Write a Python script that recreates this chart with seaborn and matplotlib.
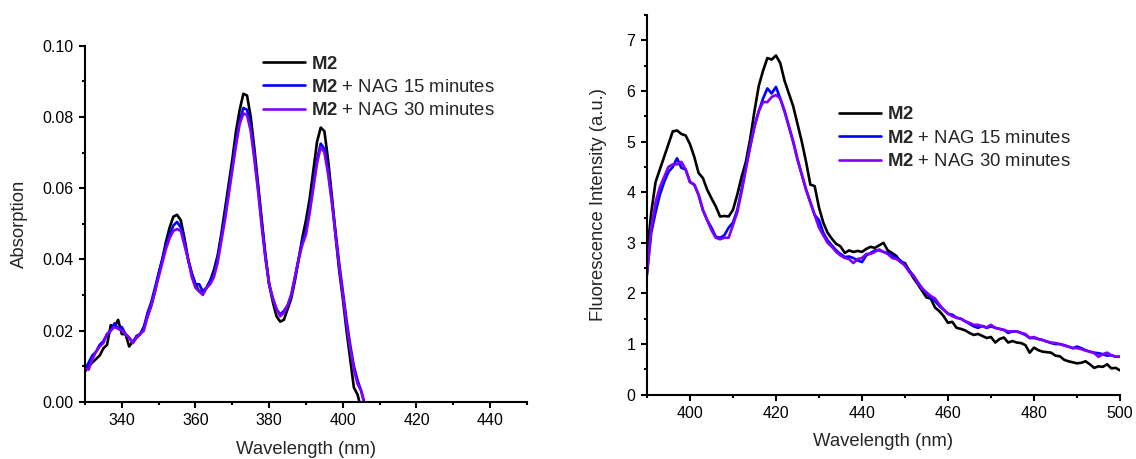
import numpy as np
import pandas as pd
import matplotlib
matplotlib.use("Agg")
import matplotlib.pyplot as plt
from matplotlib.ticker import MultipleLocator
import seaborn as sns

# ---------------- data: absorption ----------------
abs_wl = list(range(330, 407))
abs_m2 = [0.0085, 0.010, 0.011, 0.012, 0.013, 0.015, 0.016, 0.0215, 0.021, 0.023,
          0.019, 0.019, 0.0155, 0.017, 0.018, 0.019, 0.021, 0.024, 0.027, 0.031,
          0.036, 0.040, 0.045, 0.049, 0.052, 0.0525, 0.051, 0.046, 0.040, 0.036,
          0.033, 0.031, 0.031, 0.032, 0.034, 0.037, 0.041, 0.047, 0.054, 0.061,
          0.068, 0.076, 0.082, 0.0865, 0.086, 0.080, 0.071, 0.061, 0.051, 0.041,
          0.033, 0.028, 0.024, 0.0225, 0.023, 0.026, 0.029, 0.034, 0.040, 0.046,
          0.051, 0.057, 0.065, 0.073, 0.077, 0.076, 0.068, 0.058, 0.047, 0.037,
          0.029, 0.020, 0.012, 0.004, 0.002, -0.002, -0.004]
abs_15 = [0.009, 0.011, 0.013, 0.014, 0.016, 0.017, 0.019, 0.020, 0.022, 0.0205,
          0.021, 0.019, 0.018, 0.0165, 0.0185, 0.019, 0.021, 0.025, 0.028, 0.032,
          0.036, 0.040, 0.044, 0.047, 0.0495, 0.0505, 0.049, 0.045, 0.040, 0.036,
          0.033, 0.033, 0.031, 0.032, 0.034, 0.036, 0.040, 0.046, 0.052, 0.059,
          0.066, 0.073, 0.079, 0.0825, 0.082, 0.077, 0.069, 0.060, 0.050, 0.041,
          0.033, 0.029, 0.026, 0.0245, 0.0255, 0.027, 0.030, 0.035, 0.040, 0.045,
          0.048, 0.054, 0.061, 0.068, 0.0725, 0.071, 0.065, 0.057, 0.048, 0.039,
          0.031, 0.023, 0.016, 0.010, 0.006, 0.003, -0.001]
abs_30 = [0.0095, 0.009, 0.012, 0.014, 0.0155, 0.0165, 0.019, 0.020, 0.021, 0.0205,
          0.020, 0.019, 0.018, 0.0165, 0.018, 0.019, 0.020, 0.024, 0.027, 0.031,
          0.035, 0.039, 0.043, 0.046, 0.048, 0.0485, 0.048, 0.044, 0.040, 0.035,
          0.032, 0.031, 0.030, 0.032, 0.033, 0.035, 0.039, 0.045, 0.051, 0.058,
          0.065, 0.072, 0.078, 0.081, 0.0805, 0.076, 0.068, 0.059, 0.049, 0.040,
          0.033, 0.029, 0.026, 0.024, 0.025, 0.027, 0.030, 0.035, 0.040, 0.044,
          0.047, 0.053, 0.060, 0.067, 0.0715, 0.070, 0.064, 0.056, 0.047, 0.038,
          0.030, 0.022, 0.015, 0.009, 0.005, 0.003, -0.001]

# ---------------- data: fluorescence ----------------
fl_wl = list(range(390, 501))
fl_m2 = [2.75, 3.6, 4.2, 4.45, 4.7, 4.95, 5.2, 5.22, 5.15, 5.12,
         4.95, 4.7, 4.38, 4.28, 4.05, 3.88, 3.72, 3.52, 3.53, 3.52,
         3.65, 3.95, 4.3, 4.6, 5.05, 5.6, 6.1, 6.4, 6.65, 6.62,
         6.7, 6.55, 6.2, 5.95, 5.7, 5.35, 5.0, 4.6, 4.15, 4.12,
         3.7, 3.4, 3.2, 3.08, 2.98, 2.93, 2.8, 2.85, 2.82, 2.84,
         2.82, 2.88, 2.92, 2.9, 2.95, 3.0, 2.85, 2.8, 2.74, 2.62,
         2.6, 2.45, 2.3, 2.18, 2.05, 1.92, 1.9, 1.72, 1.65, 1.55,
         1.42, 1.44, 1.32, 1.3, 1.27, 1.22, 1.18, 1.2, 1.16, 1.12,
         1.14, 1.03, 1.1, 1.13, 1.03, 1.06, 1.03, 1.02, 0.98, 0.83,
         0.93, 0.88, 0.85, 0.84, 0.83, 0.77, 0.76, 0.69, 0.66, 0.64,
         0.62, 0.63, 0.66, 0.6, 0.53, 0.56, 0.55, 0.6, 0.52, 0.53,
         0.48]
fl_15 = [2.4, 3.2, 3.6, 3.95, 4.2, 4.4, 4.5, 4.67, 4.48, 4.45,
         4.2, 4.15, 3.95, 3.65, 3.45, 3.3, 3.12, 3.1, 3.15, 3.3,
         3.4, 3.65, 4.05, 4.5, 4.9, 5.3, 5.6, 5.85, 6.05, 5.95,
         6.08, 5.85, 5.6, 5.3, 5.0, 4.65, 4.35, 4.05, 3.8, 3.55,
         3.45, 3.2, 3.05, 2.95, 2.85, 2.78, 2.72, 2.73, 2.7, 2.65,
         2.62, 2.75, 2.8, 2.85, 2.85, 2.82, 2.8, 2.75, 2.7, 2.65,
         2.55, 2.45, 2.35, 2.22, 2.1, 2.0, 1.92, 1.85, 1.75, 1.68,
         1.6, 1.58, 1.52, 1.5, 1.45, 1.4, 1.35, 1.32, 1.36, 1.32,
         1.35, 1.32, 1.3, 1.28, 1.22, 1.25, 1.25, 1.22, 1.18, 1.12,
         1.12, 1.1, 1.08, 1.05, 1.02, 1.0, 1.0, 0.98, 0.95, 0.92,
         0.95, 0.92, 0.88, 0.85, 0.83, 0.82, 0.8, 0.77, 0.78, 0.75,
         0.75]
fl_30 = [2.35, 3.3, 3.8, 4.1, 4.3, 4.5, 4.55, 4.55, 4.6, 4.45,
         4.2, 4.15, 3.95, 3.65, 3.45, 3.25, 3.1, 3.07, 3.1, 3.1,
         3.35, 3.6, 4.0, 4.45, 4.9, 5.3, 5.6, 5.78, 5.78, 5.88,
         5.92, 5.85, 5.6, 5.3, 5.0, 4.65, 4.35, 4.05, 3.8, 3.55,
         3.3, 3.15, 3.0, 2.92, 2.82, 2.75, 2.7, 2.68, 2.6, 2.68,
         2.7, 2.78, 2.78, 2.82, 2.87, 2.82, 2.78, 2.7, 2.68, 2.62,
         2.55, 2.42, 2.35, 2.2, 2.1, 2.02, 1.95, 1.9, 1.78, 1.68,
         1.6, 1.55, 1.52, 1.5, 1.45, 1.42, 1.38, 1.38, 1.35, 1.33,
         1.38, 1.32, 1.3, 1.28, 1.25, 1.25, 1.25, 1.22, 1.2, 1.12,
         1.14, 1.1, 1.08, 1.05, 1.03, 1.02, 1.0, 0.97, 0.95, 0.92,
         0.92, 0.9, 0.87, 0.85, 0.82, 0.75, 0.8, 0.83, 0.78, 0.75,
         0.75]

series_names = ["M2", "M2 + NAG 15 minutes", "M2 + NAG 30 minutes"]
legend_labels = [r"$\mathbf{M2}$", r"$\mathbf{M2}$ + NAG 15 minutes", r"$\mathbf{M2}$ + NAG 30 minutes"]
colors = ["#000000", "#0000FF", "#7F00FF"]

sns.set_style("ticks")
plt.rcParams["font.family"] = ["Liberation Sans", "DejaVu Sans"]
plt.rcParams["mathtext.fontset"] = "custom"
plt.rcParams["mathtext.rm"] = "Liberation Sans"
plt.rcParams["mathtext.bf"] = "Liberation Sans:bold"
plt.rcParams["mathtext.it"] = "Liberation Sans:italic"

abs_df = pd.concat([
    pd.DataFrame({"wl": abs_wl, "val": v, "series": n})
    for v, n in zip([abs_m2, abs_15, abs_30], series_names)
])
fl_df = pd.concat([
    pd.DataFrame({"wl": fl_wl, "val": v, "series": n})
    for v, n in zip([fl_m2, fl_15, fl_30], series_names)
])

fig = plt.figure(figsize=(11.36, 4.59), dpi=100)
ax1 = fig.add_axes([0.0748, 0.1248, 0.3891, 0.7756])
ax2 = fig.add_axes([0.5695, 0.1401, 0.4164, 0.8272])

palette = dict(zip(series_names, colors))
for ax, df in [(ax1, abs_df), (ax2, fl_df)]:
    sns.lineplot(data=df, x="wl", y="val", hue="series", hue_order=series_names,
                 palette=palette, linewidth=1.9, ax=ax, legend=False, sort=False)

LBL = 13.3
TCK = 11.5

ax1.set_xlim(330, 450)
ax1.set_ylim(0, 0.10)
ax1.xaxis.set_major_locator(MultipleLocator(20))
ax1.xaxis.set_minor_locator(MultipleLocator(10))
ax1.yaxis.set_major_locator(MultipleLocator(0.02))
ax1.yaxis.set_minor_locator(MultipleLocator(0.01))
ax1.yaxis.set_major_formatter(matplotlib.ticker.FormatStrFormatter("%.2f"))
ax1.set_ylabel("Absorption", fontsize=LBL, labelpad=10)
ax1.set_xlabel("Wavelength (nm)", fontsize=LBL, labelpad=9)

ax2.set_xlim(390, 500)
ax2.set_ylim(0, 7.5)
ax2.xaxis.set_major_locator(MultipleLocator(20))
ax2.xaxis.set_minor_locator(MultipleLocator(10))
ax2.yaxis.set_major_locator(MultipleLocator(1))
ax2.yaxis.set_minor_locator(MultipleLocator(0.5))
ax2.set_ylabel("Fluorescence Intensity (a.u.)", fontsize=LBL, labelpad=14)
ax2.set_xlabel("Wavelength (nm)", fontsize=LBL, labelpad=8.5)

for ax in (ax1, ax2):
    sns.despine(ax=ax)
    for s in ("left", "bottom"):
        ax.spines[s].set_linewidth(1.5)
        ax.spines[s].set_color("black")
    ax.tick_params(which="major", direction="out", length=4.3, width=1.5,
                   labelsize=TCK, colors="black", pad=4)
    ax.tick_params(which="minor", direction="out", length=2.5, width=1.5, colors="black")

h1 = ax1.get_lines()[:3]
ax1.legend(h1, legend_labels, loc="upper left", bbox_to_anchor=(0.2315, 0.879),
           bbox_transform=fig.transFigure, frameon=False, fontsize=LBL,
           handlelength=2.27, handletextpad=0.33, labelspacing=0.34,
           borderpad=0, borderaxespad=0)
h2 = ax2.get_lines()[:3]
ax2.legend(h2, legend_labels, loc="upper left", bbox_to_anchor=(0.7386, 0.768),
           bbox_transform=fig.transFigure, frameon=False, fontsize=LBL,
           handlelength=2.27, handletextpad=0.33, labelspacing=0.34,
           borderpad=0, borderaxespad=0)

fig.savefig("out.png", dpi=100)
